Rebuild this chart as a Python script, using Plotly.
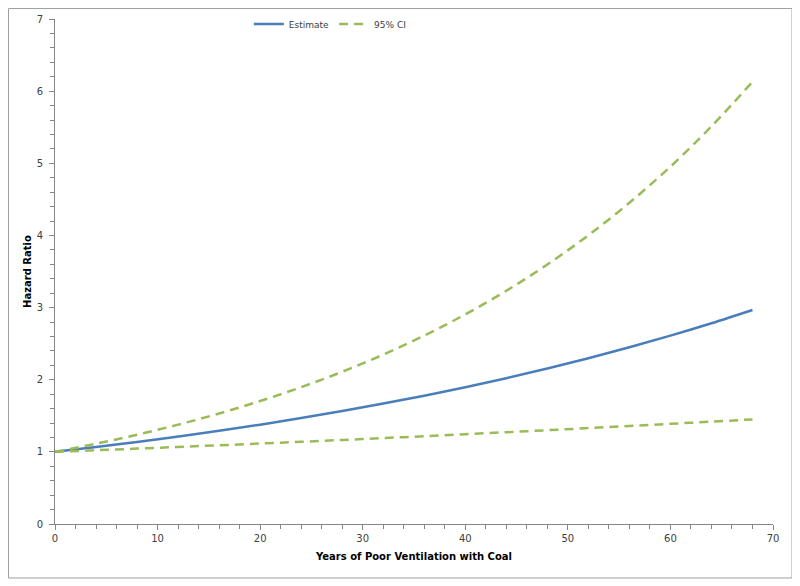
import plotly.graph_objects as go

years = [0, 4, 8, 12, 16, 20, 24, 28, 32, 36, 40, 44, 48, 52, 56, 60, 64, 68]
estimate = [1.000, 1.066, 1.137, 1.212, 1.292, 1.377, 1.468, 1.565, 1.669, 1.779, 1.896, 2.021, 2.155, 2.297, 2.449, 2.611, 2.783, 2.967]
ci_upper = [1.000, 1.113, 1.238, 1.377, 1.532, 1.705, 1.897, 2.110, 2.348, 2.612, 2.906, 3.233, 3.597, 4.002, 4.453, 4.954, 5.512, 6.130]
ci_lower = [1.000, 1.022, 1.045, 1.068, 1.091, 1.115, 1.140, 1.165, 1.191, 1.217, 1.244, 1.272, 1.300, 1.329, 1.358, 1.388, 1.419, 1.450]

blue = "#4A7EBB"
green = "#9BBB59"
txt = "#404040"
axcol = "#868686"
font = "DejaVu Sans"

fig = go.Figure()
fig.add_trace(go.Scatter(x=years, y=estimate, mode="lines", name="Estimate",
                         line=dict(color=blue, width=2.5, shape="spline")))
fig.add_trace(go.Scatter(x=years, y=ci_upper, mode="lines", name="95% CI", legendgroup="ci",
                         line=dict(color=green, width=2.5, dash="9px,6px", shape="spline")))
fig.add_trace(go.Scatter(x=years, y=ci_lower, mode="lines", name="95% CI", legendgroup="ci",
                         showlegend=False,
                         line=dict(color=green, width=2.5, dash="9px,6px", shape="spline")))

axis_common = dict(showgrid=False, zeroline=False, showline=True, linecolor=axcol, linewidth=1,
                   ticks="outside", ticklen=5, tickcolor=axcol, automargin=False,
                   tickfont=dict(family=font, size=10, color=txt))

fig.update_xaxes(range=[0, 70], dtick=10, tick0=0,
                 minor=dict(dtick=2, ticks="outside", ticklen=4, tickcolor=axcol),
                 title=dict(text="<b>Years of Poor Ventilation with Coal</b>",
                            font=dict(family=font, size=10, color="#000000"), standoff=9),
                 **axis_common)
fig.update_yaxes(range=[0, 7], dtick=1, tick0=0, ticklabelstandoff=4,
                 minor=dict(dtick=0.2, ticks="outside", ticklen=4, tickcolor=axcol),
                 title=dict(text="<b>Hazard Ratio</b>",
                            font=dict(family=font, size=10, color="#000000"), standoff=3),
                 **axis_common)

fig.update_layout(
    width=800, height=586,
    margin=dict(l=47, r=35, t=11, b=70, autoexpand=False),
    paper_bgcolor="white", plot_bgcolor="white",
    font=dict(family=font, size=10, color=txt),
    legend=dict(orientation="h", x=0.27, xanchor="left", y=0.99, yanchor="middle",
                font=dict(family=font, size=9, color=txt), bgcolor="rgba(0,0,0,0)",
                itemwidth=30, tracegroupgap=0),
    # chart-area border like the Excel frame
    shapes=[dict(type="rect", xref="paper", yref="paper",
                 x0=-0.0648, x1=1.0265, y0=-0.1069, y1=1.0208,
                 line=dict(color="#A0A0A0", width=1), fillcolor="rgba(0,0,0,0)", layer="below")],
)

fig.write_html("out.html")
